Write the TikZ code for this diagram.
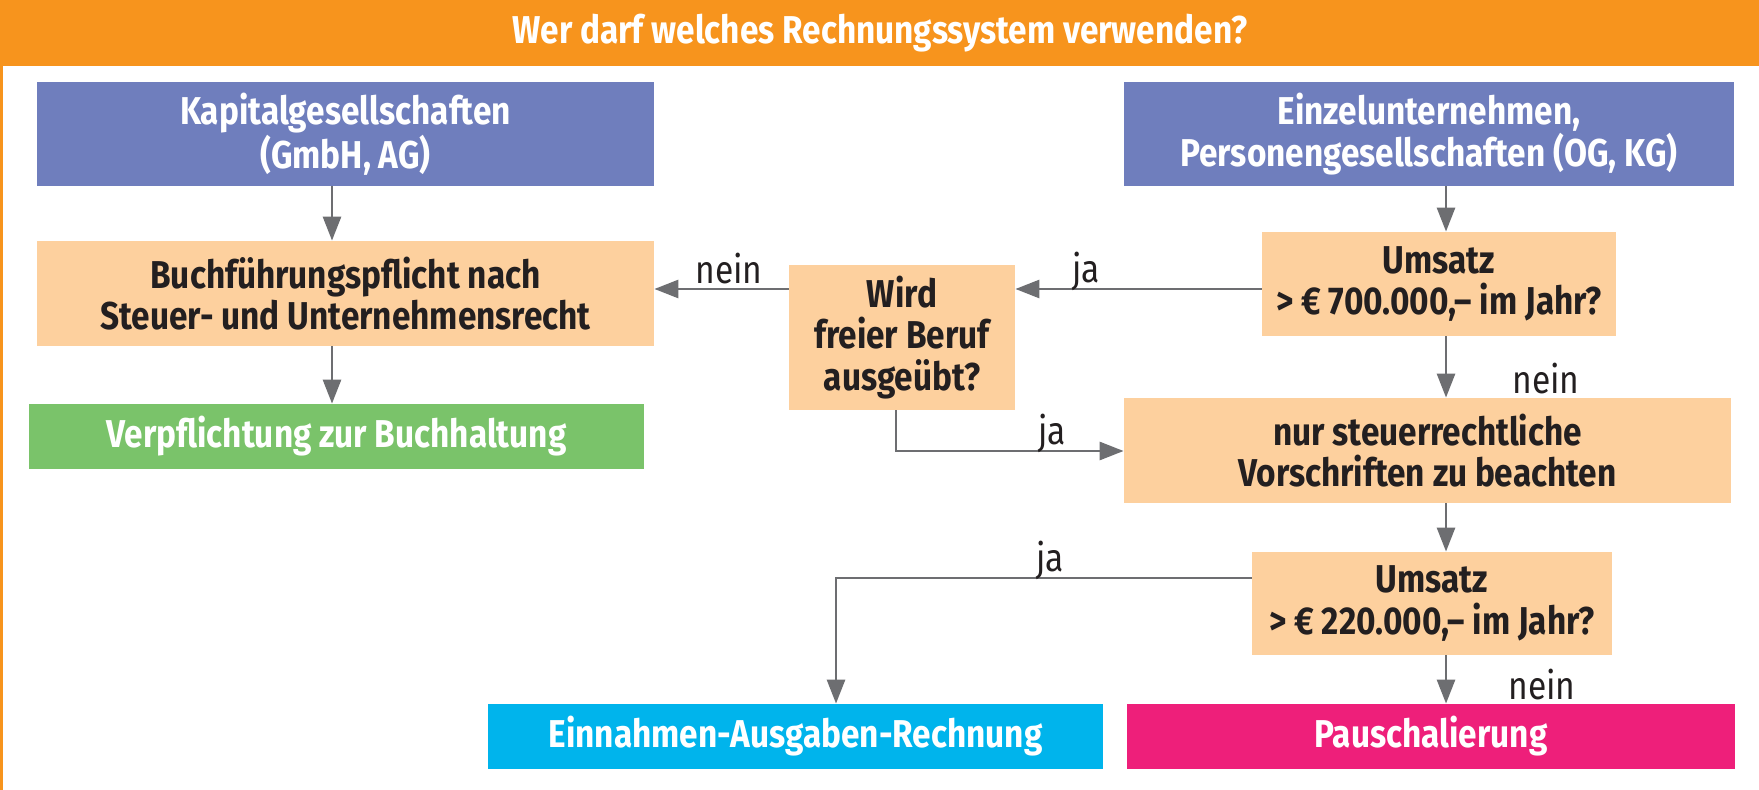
\documentclass[tikz,border=0pt]{standalone}
\usepackage{fontspec}
\setmainfont{Fira Sans}[FakeStretch=0.86]
\newfontfamily\lblfont{Fira Sans}[FakeStretch=0.86]
\usetikzlibrary{arrows.meta}
\definecolor{orangeH}{HTML}{F7941D}
\definecolor{purp}{HTML}{6F7EBD}
\definecolor{peach}{HTML}{FDD09E}
\definecolor{grn}{HTML}{7AC36A}
\definecolor{cyn}{HTML}{00B4EC}
\definecolor{mag}{HTML}{EE1F7A}
\definecolor{txt}{HTML}{231F20}
\definecolor{arrg}{HTML}{6D6E71}
\begin{document}
\begin{tikzpicture}[x=0.5pt,y=-0.5pt,
  box/.style={inner sep=0pt, align=center, font=\fontsize{19.4}{20.75}\selectfont\bfseries},
  purpbox/.style={box, fill=purp, text=white},
  peachbox/.style={box, fill=peach, text=txt},
  whitebox/.style={box, text=white},
  lbl/.style={inner sep=0pt, text=txt, font=\lblfont\fontsize{19.5}{22}\selectfont},
  arr/.style={draw=arrg, line width=1.4pt, -{Triangle[length=12pt,width=9pt]}},
]
\useasboundingbox (0,0) rectangle (1759,790);
\fill[white] (0,0) rectangle (1759,790);
\fill[orangeH] (0,0) rectangle (1759,66);
\fill[orangeH] (0,0) rectangle (2.5,790);
\node[whitebox, font=\fontsize{19.4}{22}\selectfont\bfseries] (title) at (880,33) {Wer darf welches Rechnungssystem verwenden?};

\node[purpbox, minimum width=308.5pt, minimum height=52pt] (kap) at (345.5,134) {Kapitalgesellschaften\\(GmbH, AG)};
\node[purpbox, minimum width=305pt, minimum height=52pt] (ein) at (1429,134) {Einzelunternehmen,\\Personengesellschaften (OG, KG)};
\node[peachbox, minimum width=308.5pt, minimum height=52.5pt] (buch) at (345.5,293.5) {Buchführungspflicht nach\\Steuer- und Unternehmensrecht};
\node[whitebox, fill=grn, minimum width=307.5pt, minimum height=32.5pt] (verp) at (336.5,436.5) {Verpflichtung zur Buchhaltung};
\node[peachbox, minimum width=113pt, minimum height=72.5pt] (wird) at (902,337.5) {Wird\\freier Beruf\\ausgeübt?};
\node[peachbox, minimum width=177pt, minimum height=52pt] (u1) at (1439,284) {Umsatz\\> € 700.000,– im Jahr?};
\node[peachbox, minimum width=303.5pt, minimum height=52.5pt] (nur) at (1427.5,450.5) {nur steuerrechtliche\\Vorschriften zu beachten};
\node[peachbox, minimum width=180pt, minimum height=51.5pt] (u2) at (1432,603.5) {Umsatz\\> € 220.000,– im Jahr?};
\node[whitebox, fill=cyn, minimum width=307.5pt, minimum height=32.5pt] (ear) at (795.5,736.5) {Einnahmen-Ausgaben-Rechnung};
\node[whitebox, fill=mag, minimum width=304pt, minimum height=32.5pt] (pau) at (1431,736.5) {Pauschalierung};

\coordinate (vl) at (332,0);
\coordinate (vr) at (1446,0);
\coordinate (h1) at (0,289);
\coordinate (wd) at (896,0);
\coordinate (k1) at (896,451);
\coordinate (h2) at (0,578);
\coordinate (k2) at (836,578);

\draw[arr] (kap.south -| vl) -- (buch.north -| vl);
\draw[arr] (buch.south -| vl) -- (verp.north -| vl);
\draw[arr] (ein.south -| vr) -- (u1.north -| vr);
\draw[arr] (u1.west |- h1) -- (wird.east |- h1);
\draw[arr] (wird.west |- h1) -- (buch.east |- h1);
\draw[arr] (wird.south -| wd) -- (k1) -- (nur.west |- k1);
\draw[arr] (u1.south -| vr) -- (nur.north -| vr);
\draw[arr] (nur.south -| vr) -- (u2.north -| vr);
\draw[arr] (u2.west |- h2) -- (k2) -- (ear.north -| k2);
\draw[arr] (u2.south -| vr) -- (pau.north -| vr);

\node[lbl] (l1) at (729,269) {nein};
\node[lbl] (l2) at (1086,271) {ja};
\node[lbl] (l3) at (1052,433) {ja};
\node[lbl] (l4) at (1546,379) {nein};
\node[lbl] (l5) at (1050,560) {ja};
\node[lbl] (l6) at (1542,685) {nein};
\end{tikzpicture}
\end{document}
